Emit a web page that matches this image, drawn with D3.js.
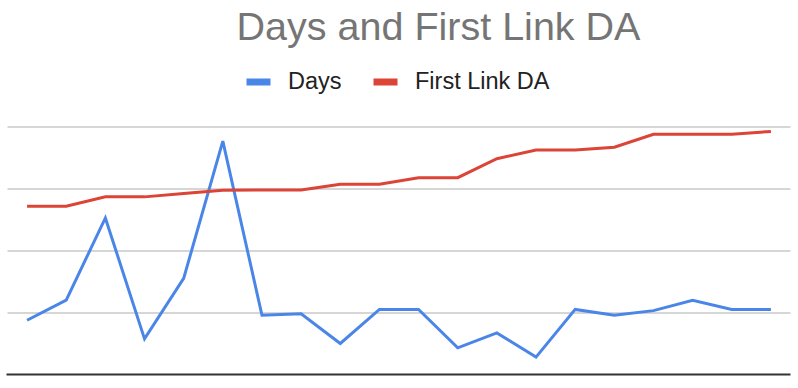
<!DOCTYPE HTML>
<html>
<head>
  <title>Days and First Link DA</title>
  <meta charset="UTF-8">
</head>
<script src="https://d3js.org/d3.v7.min.js"></script>
<style>
body { margin: 0; background: #fff; }
svg { display: block; font-family: "Liberation Sans", Arial, sans-serif; }
.grid line { stroke: #c8c8c8; stroke-width: 1.5; }
.grid .domain { display: none; }
.line { fill: none; stroke-width: 3; }
</style>
<body>
  <svg width="798" height="388"></svg>
  <script>
    // rows of the sheet (no axis labels are shown)
    var categories = ["1", "2", "3", "4", "5", "6", "7", "8", "9", "10",
                      "11", "12", "13", "14", "15", "16", "17", "18", "19", "20"]
    var days = [17.5, 24, 50.5, 11.5, 31, 75.3, 19.1, 19.6, 10, 21,
                21, 8.6, 13.4, 5.6, 21, 19.1, 20.6, 23.9, 21, 21]
    var firstLinkDA = [54.3, 54.3, 57.3, 57.3, 58.4, 59.4, 59.5, 59.5, 61.4, 61.4,
                       63.5, 63.5, 69.6, 72.4, 72.4, 73.3, 77.5, 77.5, 77.5, 78.4]
    var yTicks = [20, 40, 60, 80]

    var series = [
      { name: "Days", values: days, color: "#4a86e8" },
      { name: "First Link DA", values: firstLinkDA, color: "#db4437" }
    ]

    var svg = d3.select("svg")
    var plotLeft = 7.5, plotRight = 790.5, plotTop = 126.5, plotBottom = 374.5

    var x = d3.scalePoint().domain(categories).range([plotLeft, plotRight]).padding(0.5)
    var y = d3.scaleLinear().domain([0, 80]).range([plotBottom, plotTop])

    // title
    svg.append("text")
      .attr("x", 438.5)
      .attr("y", 40)
      .attr("text-anchor", "middle")
      .attr("fill", "#757575")
      .style("font-size", "39.5px")
      .text("Days and First Link DA")

    // legend
    var legendX = [246.5, 373.5]
    var legend = svg.selectAll(".legend")
      .data(series)
      .enter().append("g")
      .attr("class", "legend")
      .attr("transform", function(d, i) { return "translate(" + legendX[i] + ",0)" })

    legend.append("rect")
      .attr("x", 0)
      .attr("y", 78.5)
      .attr("width", 24)
      .attr("height", 7)
      .attr("fill", function(d) { return d.color })

    legend.append("text")
      .attr("x", 41.5)
      .attr("y", 89)
      .attr("fill", "#222")
      .style("font-size", "23.5px")
      .text(function(d) { return d.name })

    // gridlines
    svg.append("g")
      .attr("class", "grid")
      .attr("transform", "translate(" + plotLeft + ",0)")
      .call(d3.axisLeft(y).tickValues(yTicks).tickSize(-(plotRight - plotLeft)).tickFormat(""))

    // baseline
    svg.append("line")
      .attr("x1", plotLeft - 1)
      .attr("x2", plotRight)
      .attr("y1", y(0))
      .attr("y2", y(0))
      .attr("stroke", "#333")
      .attr("stroke-width", 2)

    var line = d3.line()
      .x(function(d, i) { return x(categories[i]) })
      .y(function(d) { return y(d) })

    svg.selectAll(".line")
      .data(series)
      .enter().append("path")
      .attr("class", "line")
      .attr("stroke", function(d) { return d.color })
      .attr("d", function(d) { return line(d.values) })
  </script>
</body>
</html>
